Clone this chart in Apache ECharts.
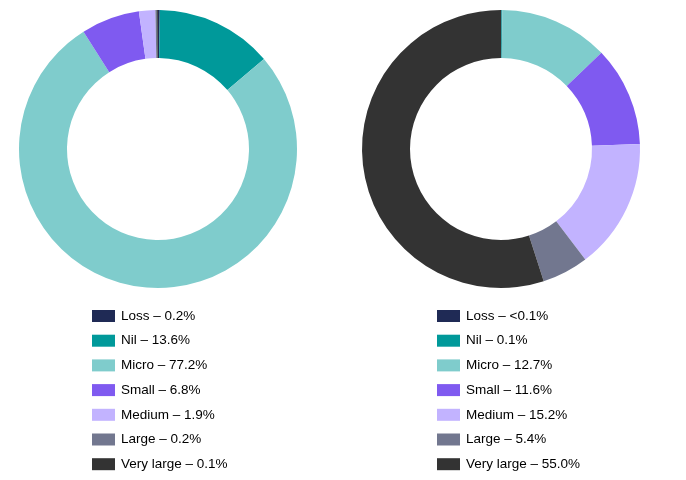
<!DOCTYPE html>
<html>
<head>
<meta charset="utf-8">
<script src="https://cdn.jsdelivr.net/npm/echarts@6/dist/echarts.min.js"></script>
<style>html,body{margin:0;padding:0;background:#fff}#c{width:686px;height:480px}</style>
</head>
<body>
<div id="c"></div>
<script>
var categories = ['Loss', 'Nil', 'Micro', 'Small', 'Medium', 'Large', 'Very large'];
var leftValues = [0.2, 13.6, 77.2, 6.8, 1.9, 0.2, 0.1];
var rightValues = [0.05, 0.1, 12.7, 11.6, 15.2, 5.4, 55.0];
var leftLabels = ['0.2%', '13.6%', '77.2%', '6.8%', '1.9%', '0.2%', '0.1%'];
var rightLabels = ['<0.1%', '0.1%', '12.7%', '11.6%', '15.2%', '5.4%', '55.0%'];
var colors = ['#1f2a55', '#00999a', '#7fcccc', '#7f5af0', '#c2b3ff', '#72778f', '#333333'];

function mk(vals) {
  return categories.map(function (c, i) { return { name: c, value: vals[i] }; });
}
function fmt(labels) {
  return function (name) { return name + ' \u2013 ' + labels[categories.indexOf(name)]; };
}
var legendBase = {
  orient: 'vertical', itemWidth: 23, itemHeight: 12, itemGap: 10.7,
  icon: 'rect', selectedMode: false, data: categories, height: 200, padding: 5,
  textStyle: { fontFamily: 'Liberation Sans, Arial, sans-serif', fontSize: 13.5, color: '#000', padding: [0, 0, 0, 1] }
};
var chart = echarts.init(document.getElementById('c'));
chart.setOption({
  animation: false,
  color: colors,
  legend: [
    Object.assign({}, legendBase, { left: 87, top: 304, formatter: fmt(leftLabels) }),
    Object.assign({}, legendBase, { left: 432, top: 304, formatter: fmt(rightLabels) })
  ],
  series: [
    { type: 'pie', center: [158, 149], radius: [91, 139], startAngle: 90, clockwise: true,
      label: { show: false }, labelLine: { show: false }, emphasis: { disabled: true },
      itemStyle: { borderWidth: 0 }, data: mk(leftValues) },
    { type: 'pie', center: [501, 149], radius: [91, 139], startAngle: 90, clockwise: true,
      label: { show: false }, labelLine: { show: false }, emphasis: { disabled: true },
      itemStyle: { borderWidth: 0 }, data: mk(rightValues) }
  ]
});
</script>
</body>
</html>
